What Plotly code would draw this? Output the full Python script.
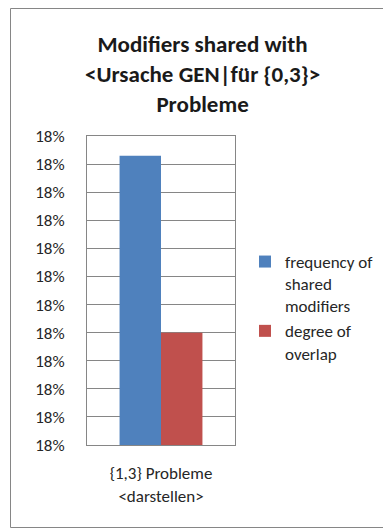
import plotly.graph_objects as go

# Data
categories = ["{1,3} Probleme<br><darstellen>"]
series_names = ["frequency of<br>shared<br>modifiers", "degree of<br>overlap"]
freq_shared = [0.18053]
degree_overlap = [0.17990]
series_colors = ["#4F81BD", "#C0504D"]

# Value axis: twelve gridlines, every label rounds to 18%
y_min = 0.1795
y_step = 0.0001
n_steps = 11

FONT = "Carlito, Calibri, Lato, 'Open Sans', sans-serif"

fig = go.Figure()
for name, vals, col in zip(series_names, [freq_shared, degree_overlap], series_colors):
    fig.add_trace(go.Bar(x=categories, y=vals, name=name, marker_color=col,
                         marker_line_width=0))

W, H = 383, 529
L, R, T, B = 87, 148, 136, 84
pw, ph = W - L - R, H - T - B

def px_x(x):
    return (x - L) / pw

def px_y(y):
    return (H - B - y) / ph

fig.update_layout(
    width=W, height=H,
    margin=dict(l=L, r=R, t=T, b=B, autoexpand=False),
    paper_bgcolor="white", plot_bgcolor="white",
    barmode="group", bargap=0.44, bargroupgap=0,
    font=dict(family=FONT, size=16, color="#262626"),
    showlegend=True,
    legend=dict(
        x=px_x(245), y=px_y(244), xanchor="left", yanchor="top",
        valign="top", font=dict(family=FONT, size=17, color="#262626"),
        bgcolor="rgba(0,0,0,0)", itemclick=False, tracegroupgap=0,
    ),
    xaxis=dict(
        showline=True, linecolor="#868686", linewidth=1, mirror=True,
        showgrid=False, ticks="", ticklabelstandoff=13,
        tickfont=dict(size=17, color="#262626"),
    ),
    yaxis=dict(
        range=[y_min, y_min + n_steps * y_step],
        tick0=y_min, dtick=y_step, tickformat=".0%",
        showgrid=True, gridcolor="#868686", gridwidth=1,
        showline=True, linecolor="#868686", linewidth=1, mirror=True,
        ticks="", ticklabelstandoff=18,
        tickfont=dict(size=17, color="#262626"),
        zeroline=False,
    ),
    annotations=[dict(
        text="<b>Modifiers shared with<br><Ursache GEN|für {0,3}><br>Probleme</b>",
        xref="paper", yref="paper", x=px_x(202), y=px_y(74),
        xanchor="center", yanchor="middle", showarrow=False,
        font=dict(family=FONT, size=23, color="#1a1a1a"),
    )],
    shapes=[dict(
        type="rect", xref="paper", yref="paper",
        x0=px_x(10.5), x1=px_x(386), y0=px_y(527.5), y1=px_y(8.5),
        line=dict(color="#868686", width=1), fillcolor="rgba(0,0,0,0)",
        layer="below",
    )],
)

fig.write_html("out.html")
